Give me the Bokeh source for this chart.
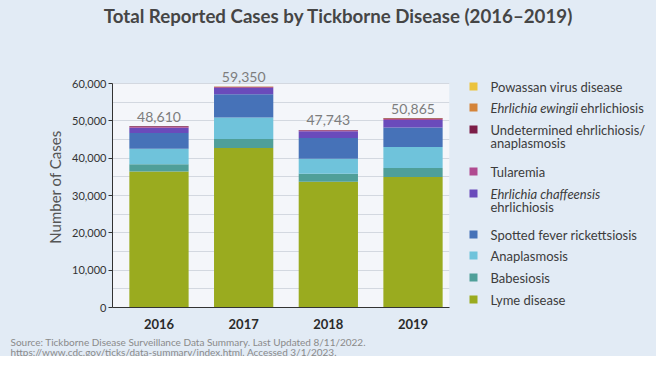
from bokeh.plotting import figure
from bokeh.layouts import column, row
from bokeh.models import (ColumnDataSource, Range1d, FixedTicker, NumeralTickFormatter,
                          LabelSet, BoxAnnotation)
from bokeh.core.properties import value
from bokeh.embed import file_html
from bokeh.resources import INLINE

years = [2016, 2017, 2018, 2019]
totals = [48610, 59350, 47743, 50865]
total_labels = ["48,610", "59,350", "47,743", "50,865"]

lyme = [36429, 42743, 33666, 34945]
babesiosis = [1910, 2368, 2160, 2418]
anaplasmosis = [4151, 5762, 4008, 5655]
spotted = [4269, 6248, 5544, 5207]
chaffeensis = [1377, 1642, 1799, 1999]
tularemia = [230, 239, 229, 274]
undetermined = [173, 150, 141, 188]
ewingii = [10, 7, 9, 10]
powassan = [22, 33, 21, 43]

series_keys = ["lyme", "babesiosis", "anaplasmosis", "spotted", "chaffeensis",
               "tularemia", "undetermined", "ewingii", "powassan"]
series_vals = [lyme, babesiosis, anaplasmosis, spotted, chaffeensis,
               tularemia, undetermined, ewingii, powassan]
colors = ["#9aab1f", "#4f9f99", "#6fc3db", "#4672b8", "#6a4bbb",
          "#b04a90", "#7c1e48", "#d4843a", "#ebc33d"]

y_ticks = [0, 10000, 20000, 30000, 40000, 50000, 60000]
grid_ticks = [0, 5000, 10000, 15000, 20000, 25000, 30000, 35000, 40000,
              45000, 50000, 55000, 60000]

title_text = "Total Reported Cases by Tickborne Disease (2016\u20132019)"
source_lines = ["Source: Tickborne Disease Surveillance Data Summary. Last Updated 8/11/2022.",
                "https://www.cdc.gov/ticks/data-summary/index.html. Accessed 3/1/2023."]

# legend, top to bottom: key, lines, each line a list of (text, italic, x)
legend_items = [
    ("powassan", [[("Powassan virus disease", False, 490)]]),
    ("ewingii", [[("Ehrlichia ewingii", True, 490), ("ehrlichiosis", False, 580)]]),
    ("undetermined", [[("Undetermined ehrlichiosis/", False, 490)],
                      [("anaplasmosis", False, 490)]]),
    ("tularemia", [[("Tularemia", False, 490)]]),
    ("chaffeensis", [[("Ehrlichia chaffeensis", True, 490)], [("ehrlichiosis", False, 490)]]),
    ("spotted", [[("Spotted fever rickettsiosis", False, 490)]]),
    ("anaplasmosis", [[("Anaplasmosis", False, 490)]]),
    ("babesiosis", [[("Babesiosis", False, 490)]]),
    ("lyme", [[("Lyme disease", False, 490)]]),
]
legend_y = [86, 107, 129, 171, 193, 234, 255, 277, 299]

FONT = "Lato"
BG = "#e2ebf5"
PLOT_BG = "#f4f6fa"

W = 656
TOP_H = 66
ROW_H = 332 - TOP_H
SRC_H = 24
MAIN_W = 464
LEG_W = W - MAIN_W
FL, FR = 112, 449
FB = 307
Y60 = 83  # pixel of 60,000


def blank(width, height, x0, x1, ytop, ybot):
    f = figure(width=width, height=height, output_backend="svg", toolbar_location=None,
               x_range=Range1d(x0, x1), y_range=Range1d(ybot, ytop),
               x_axis_location=None, y_axis_location=None,
               min_border=0, min_border_left=0, min_border_right=0,
               min_border_top=0, min_border_bottom=0)
    f.grid.visible = False
    f.title.visible = False
    f.outline_line_color = None
    f.background_fill_color = BG
    f.border_fill_color = BG
    return f


# ---- title
pt = blank(W, TOP_H, 0, W, 0, TOP_H)
pt.text(x=[338], y=[15], text=[title_text], text_align="center", text_baseline="alphabetic",
        text_font=value(FONT), text_font_size="18.7px", text_font_style="bold",
        text_color="#454545")

# ---- main chart
data = dict(year=years)
for k, v in zip(series_keys, series_vals):
    data[k] = v
source = ColumnDataSource(data)

frame_h = FB - TOP_H
y_end = frame_h / (FB - Y60) * 60000
p = figure(width=MAIN_W, height=ROW_H, output_backend="svg", toolbar_location=None,
           x_range=Range1d(2016 - 0.549, 2019 + 0.431), y_range=Range1d(0, y_end),
           min_border_left=FL, min_border_right=MAIN_W - FR, min_border_top=0,
           min_border_bottom=TOP_H + ROW_H - FB)
p.title.visible = False
p.background_fill_color = BG
p.border_fill_color = BG
p.outline_line_color = None

p.add_layout(BoxAnnotation(bottom=0, top=60000, fill_color=PLOT_BG, fill_alpha=1,
                           line_color=None, level="image"))

p.vbar_stack(series_keys, x="year", width=0.70, color=colors, line_color=None, source=source)

p.xgrid.grid_line_color = None
p.ygrid.ticker = FixedTicker(ticks=grid_ticks)
p.ygrid.grid_line_color = "#d3d8e0"

p.xaxis.ticker = FixedTicker(ticks=years)
p.xaxis.major_tick_line_color = None
p.xaxis.minor_tick_line_color = None
p.xaxis.axis_line_color = "#333333"
p.xaxis.major_label_text_font = FONT
p.xaxis.major_label_text_font_size = "13px"
p.xaxis.major_label_text_font_style = "bold"
p.xaxis.major_label_text_color = "#2a2a2a"
p.xaxis.major_label_standoff = 5

p.yaxis.ticker = FixedTicker(ticks=y_ticks)
p.yaxis.bounds = (0, 60000)
p.yaxis.formatter = NumeralTickFormatter(format="0,0")
p.yaxis.axis_line_color = "#333333"
p.yaxis.major_tick_line_color = "#333333"
p.yaxis.major_tick_out = 4
p.yaxis.major_tick_in = 0
p.yaxis.minor_tick_line_color = None
p.yaxis.major_label_text_font = FONT
p.yaxis.major_label_text_font_size = "11px"
p.yaxis.major_label_text_color = "#333333"
p.yaxis.major_label_standoff = 2
p.yaxis.axis_label = "Number of Cases"
p.yaxis.axis_label_text_font = FONT
p.yaxis.axis_label_text_font_size = "15px"
p.yaxis.axis_label_text_font_style = "normal"
p.yaxis.axis_label_text_color = "#555555"
p.yaxis.axis_label_standoff = 5

tsrc = ColumnDataSource(dict(year=years, total=totals, label=total_labels))
p.add_layout(LabelSet(x="year", y="total", text="label", source=tsrc, y_offset=4,
                      text_align="center", text_baseline="alphabetic",
                      text_font=value(FONT), text_font_size="14px", text_color="#7d7d7d"))

# ---- legend panel (its frame is aligned with the main frame: data coords = page pixels)
pl = blank(LEG_W, ROW_H, MAIN_W, W, TOP_H, FB)
color_of = dict(zip(series_keys, colors))
sq_x, sq_y, sq_c = [], [], []
tx, ty, tt, ts = [], [], [], []
for (key, lines), yc in zip(legend_items, legend_y):
    sq_x.append(473)
    sq_y.append(yc)
    sq_c.append(color_of[key])
    for li, parts in enumerate(lines):
        for text, italic, xx in parts:
            tx.append(xx)
            ty.append(yc + li * 13)
            tt.append(text)
            ts.append("italic" if italic else "normal")
pl.rect(x=sq_x, y=sq_y, width=8, height=8, fill_color=sq_c, line_color=None)
pl.text(x=tx, y=ty, text=tt, text_font_style=ts, text_align="left", text_baseline="middle",
        text_font=value(FONT), text_font_size="13px", text_color="#3c3c3c")

# ---- source
ps = blank(W, SRC_H, 0, W, TOP_H + ROW_H, TOP_H + ROW_H + SRC_H)
ps.text(x=[10, 10], y=[341, 351], text=source_lines, text_align="left",
        text_baseline="alphabetic", text_font=value(FONT), text_font_size="10px",
        text_color="#8a8a8a")

layout = column(pt, row(p, pl, styles={"background-color": BG}),
                ps, styles={"background-color": BG})
open("out.html", "w").write(file_html(layout, INLINE))
